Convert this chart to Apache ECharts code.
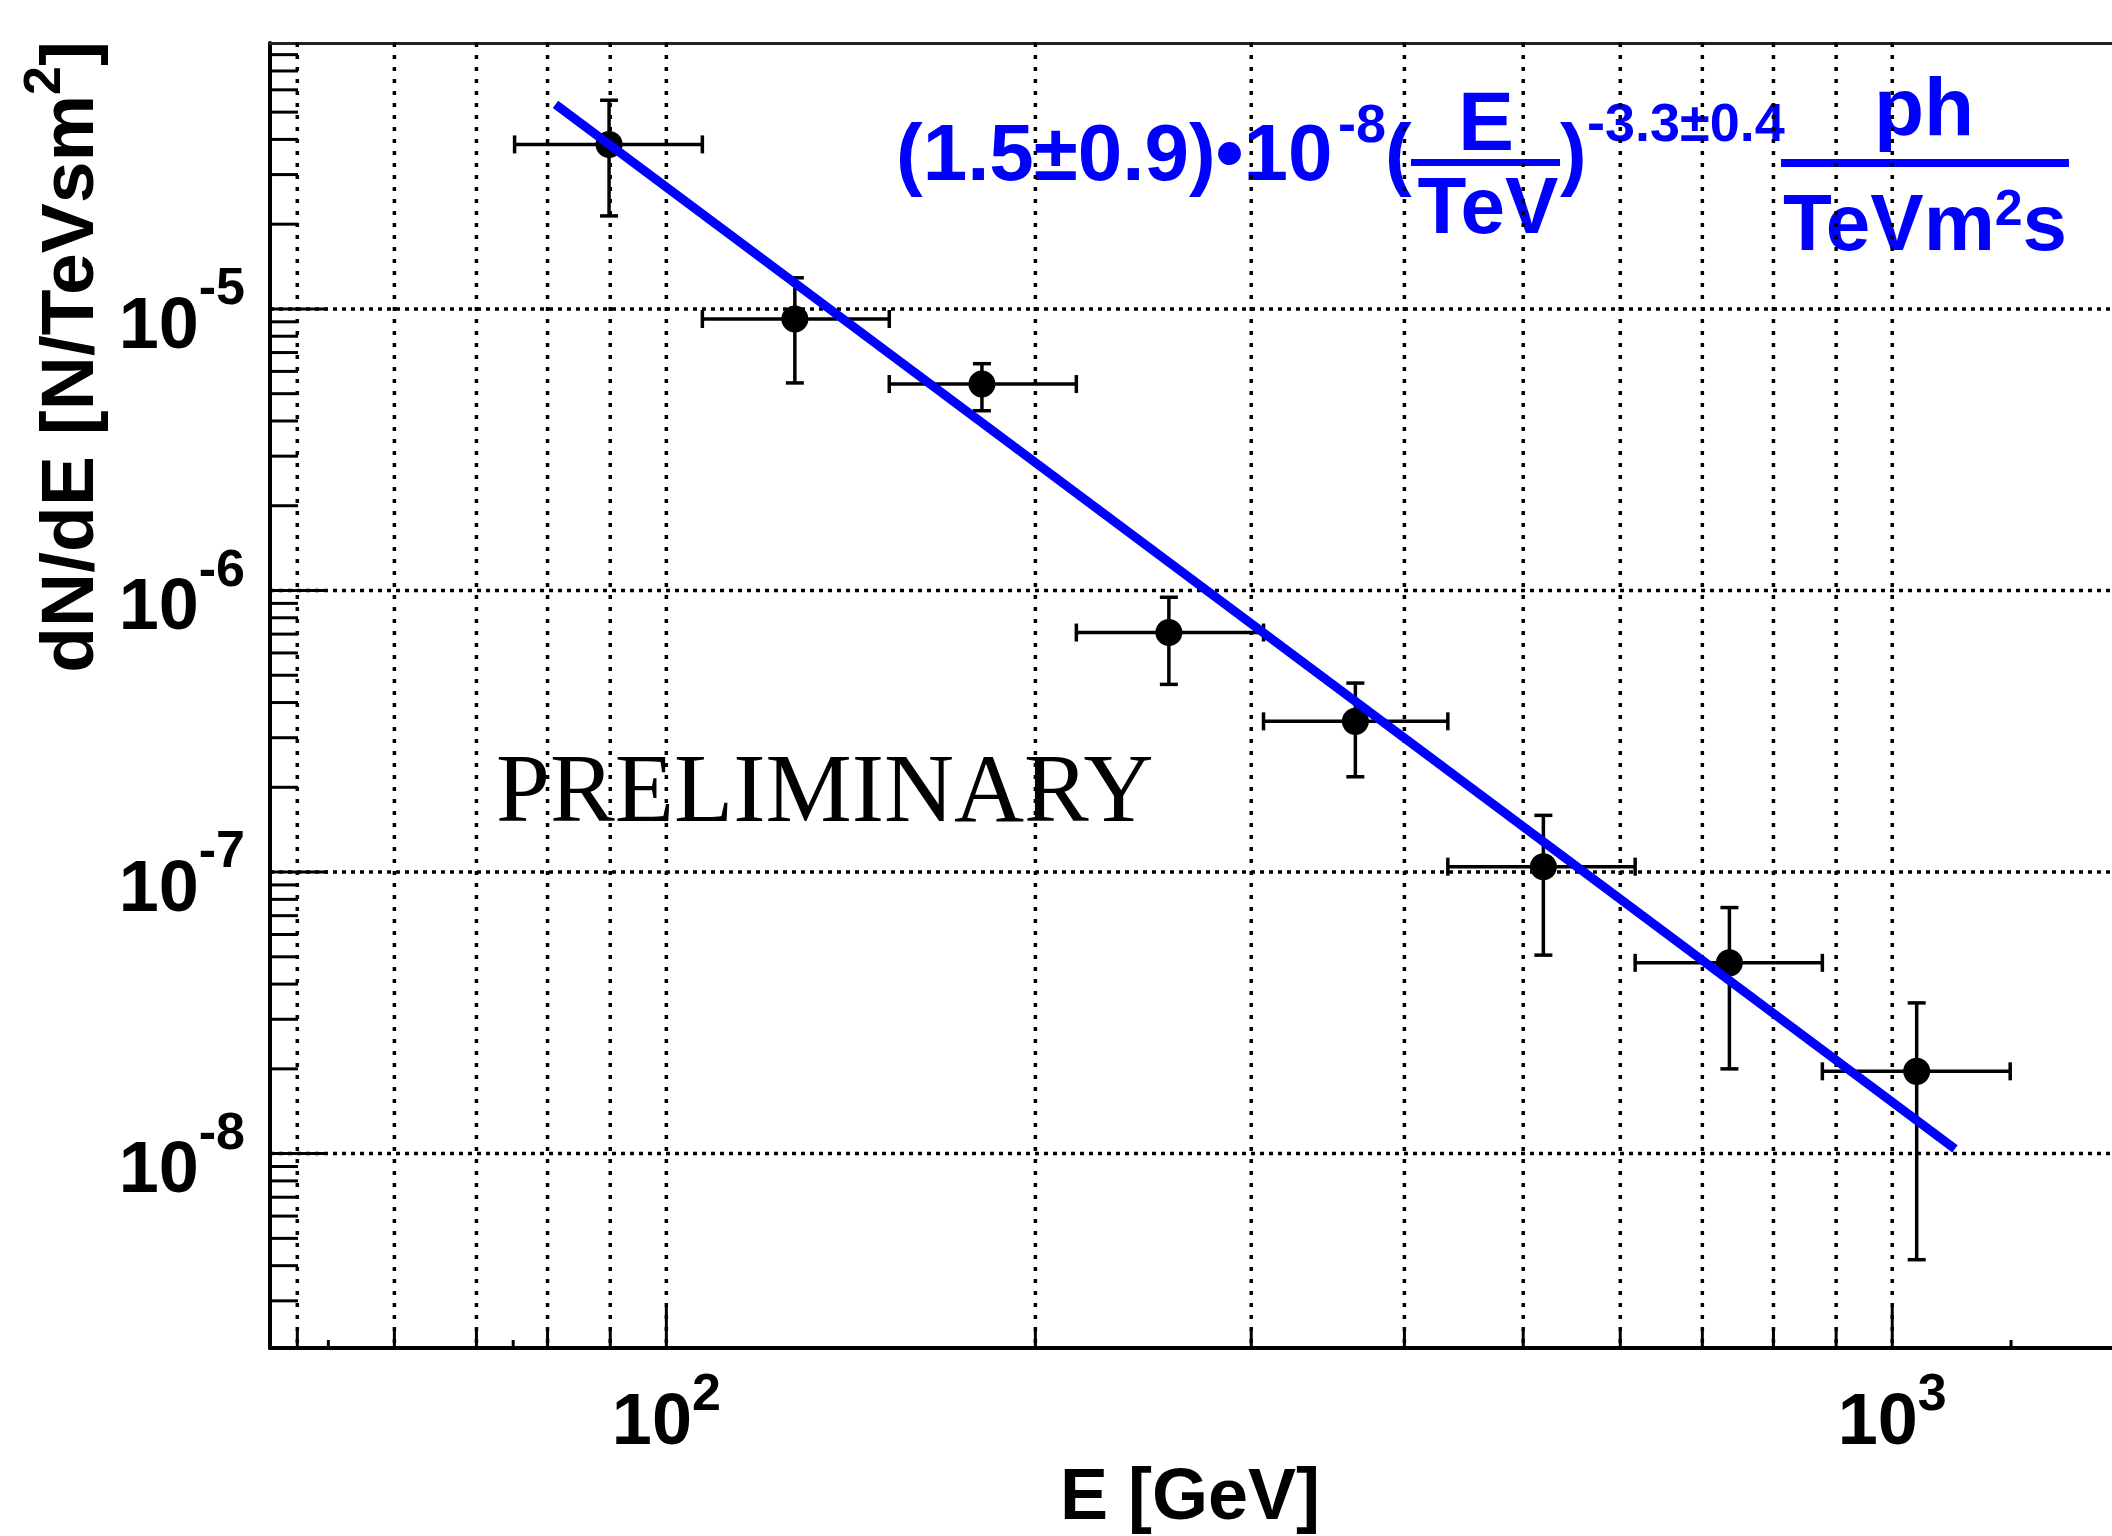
<!DOCTYPE html>
<html>
<head>
<meta charset="utf-8">
<script src="https://cdn.jsdelivr.net/npm/echarts@6/dist/echarts.min.js"></script>
<style>
html, body { margin: 0; padding: 0; background: #fff; }
#chart { width: 2112px; height: 1536px; }
</style>
</head>
<body>
<div id="chart"></div>
<script>
// bin centres and bin edges, E [GeV]
var energy = [89.8, 127.3, 180.9, 257, 364.8, 519.3, 736.5, 1047];
var energyLow = [75.2, 107, 152, 216, 307, 434, 617, 877];
var energyHigh = [107, 152, 216, 307, 434, 617, 877, 1248];
// dN/dE [N/TeV s m^2] with upper / lower error ends
var flux = [3.84e-5, 9.21e-6, 5.41e-6, 7.09e-7, 3.43e-7, 1.045e-7, 4.76e-8, 1.96e-8];
var fluxHigh = [5.51e-5, 1.29e-5, 6.39e-6, 9.46e-7, 4.69e-7, 1.59e-7, 7.48e-8, 3.43e-8];
var fluxLow = [2.14e-5, 5.46e-6, 4.35e-6, 4.64e-7, 2.18e-7, 5.07e-8, 2.0e-8, 4.2e-9];
// power-law fit: straight in log-log, so its two ends
var fitEnergy = [81.2, 1125];
var fitFlux = [5.33e-5, 1.04e-8];

// axis ranges and tick values
var xRange = [47.5, 1511];
var yRange = [2.04e-9, 8.8e-5];
var xGridValues = [50, 60, 70, 80, 90, 100, 200, 300, 400, 500, 600, 700, 800, 900, 1000];
var xMajorTicks = [100, 1000];
var xMinorTicks = [50, 60, 70, 80, 90, 200, 300, 400, 500, 600, 700, 800, 900];
var xSmallTicks = [53, 75, 1250];
var yGridValues = [1e-8, 1e-7, 1e-6, 1e-5];
var yMinorTicks = [
  3e-9, 4e-9, 5e-9, 6e-9, 7e-9, 8e-9, 9e-9,
  2e-8, 3e-8, 4e-8, 5e-8, 6e-8, 7e-8, 8e-8, 9e-8,
  2e-7, 3e-7, 4e-7, 5e-7, 6e-7, 7e-7, 8e-7, 9e-7,
  2e-6, 3e-6, 4e-6, 5e-6, 6e-6, 7e-6, 8e-6, 9e-6,
  2e-5, 3e-5, 4e-5, 5e-5, 6e-5, 7e-5, 8e-5
];

var FONT = '"Liberation Sans", Arial, Helvetica, sans-serif';
var BLUE = '#0000ff';

var chart = echarts.init(document.getElementById('chart'));

function powLabel(v) {
  var e = Math.log10(v);
  var n = Math.round(e);
  if (Math.abs(e - n) > 1e-6) return '';
  return '{b|10}{s|' + n + '}';
}

// vertical lines (grid or ticks) at x values
function vLineSeries(values, len, dash, z) {
  return {
    type: 'custom',
    silent: true,
    z: z,
    data: values.map(function (v) { return [v, yRange[1]]; }),
    renderItem: function (params, api) {
      var cs = params.coordSys;
      var x = api.coord([api.value(0), yRange[1]])[0];
      var bottom = cs.y + cs.height;
      var top = len ? bottom - len : cs.y;
      return {
        type: 'line',
        shape: { x1: x, y1: top, x2: x, y2: bottom },
        style: { stroke: '#000', lineWidth: dash ? 3.5 : 3, lineDash: dash || null }
      };
    }
  };
}

// horizontal lines (grid or ticks) at y values
function hLineSeries(values, len, dash, z) {
  return {
    type: 'custom',
    silent: true,
    z: z,
    data: values.map(function (v) { return [xRange[0], v]; }),
    renderItem: function (params, api) {
      var cs = params.coordSys;
      var y = api.coord([xRange[0], api.value(1)])[1];
      var left = cs.x;
      var right = len ? left + len : cs.x + cs.width;
      return {
        type: 'line',
        shape: { x1: left, y1: y, x2: right, y2: y },
        style: { stroke: '#000', lineWidth: dash ? 3.5 : 3, lineDash: dash || null }
      };
    }
  };
}

var errData = energy.map(function (e, i) {
  return [e, flux[i], energyLow[i], energyHigh[i], fluxLow[i], fluxHigh[i]];
});

var option = {
  animation: false,
  backgroundColor: '#fff',
  grid: { left: 270, top: 43, right: 0, bottom: 188, containLabel: false },
  xAxis: [{
    type: 'log',
    logBase: 10,
    min: xRange[0],
    max: xRange[1],
    axisLine: { show: true, lineStyle: { color: '#000', width: 4 } },
    axisTick: { show: false },
    splitLine: { show: false },
    axisLabel: {
      margin: 36,
      formatter: powLabel,
      showMinLabel: false,
      showMaxLabel: false,
      rich: {
        b: { fontFamily: FONT, fontWeight: 'bold', fontSize: 72, lineHeight: 80, color: '#000' },
        s: { fontFamily: FONT, fontWeight: 'bold', fontSize: 52, lineHeight: 24, height: 24, verticalAlign: 'top', color: '#000' }
      }
    }
  }, {
    type: 'log',
    logBase: 10,
    min: xRange[0],
    max: xRange[1],
    position: 'top',
    axisLine: { show: true, lineStyle: { color: '#222', width: 3 } },
    axisTick: { show: false },
    axisLabel: { show: false },
    splitLine: { show: false }
  }],
  yAxis: {
    type: 'log',
    logBase: 10,
    min: yRange[0],
    max: yRange[1],
    axisLine: { show: true, lineStyle: { color: '#000', width: 4 } },
    axisTick: { show: false },
    splitLine: { show: false },
    axisLabel: {
      margin: 25,
      formatter: powLabel,
      showMinLabel: false,
      showMaxLabel: false,
      padding: [38, 0, 0, 0],
      rich: {
        b: { fontFamily: FONT, fontWeight: 'bold', fontSize: 72, lineHeight: 80, color: '#000' },
        s: { fontFamily: FONT, fontWeight: 'bold', fontSize: 52, lineHeight: 4, height: 4, verticalAlign: 'top', color: '#000' }
      }
    }
  },
  graphic: [
    {
      type: 'text', x: 72, y: 41, rotation: Math.PI / 2, silent: true,
      style: {
        text: '{a|dN/dE [N/TeVsm}{s|2}{a|]}',
        textAlign: 'right', textVerticalAlign: 'middle',
        rich: {
          a: { fontFamily: FONT, fontWeight: 'bold', fontSize: 75, lineHeight: 82, fill: '#000' },
          s: { fontFamily: FONT, fontWeight: 'bold', fontSize: 52, lineHeight: 30, height: 30, verticalAlign: 'top', fill: '#000' }
        }
      }
    },
    {
      type: 'text', x: 1190, y: 1499, silent: true,
      style: { text: 'E [GeV]', font: 'bold 72px ' + FONT, fill: '#000', textAlign: 'center', textVerticalAlign: 'middle' }
    },
    {
      type: 'text', x: 496, y: 796, silent: true,
      style: { text: 'PRELIMINARY', font: '97px "Liberation Serif", "Times New Roman", serif', fill: '#000', textAlign: 'left', textVerticalAlign: 'middle' }
    },
    // fit formula
    {
      type: 'text', x: 896, y: 158, silent: true,
      style: { text: '(1.5\u00b10.9)\u202210', font: 'bold 80px ' + FONT, fill: BLUE, textAlign: 'left', textVerticalAlign: 'middle' }
    },
    {
      type: 'text', x: 1338, y: 127, silent: true,
      style: { text: '-8', font: 'bold 54px ' + FONT, fill: BLUE, textAlign: 'left', textVerticalAlign: 'middle' }
    },
    {
      type: 'text', x: 1385, y: 158, silent: true,
      style: { text: '(', font: 'bold 80px ' + FONT, fill: BLUE, textAlign: 'left', textVerticalAlign: 'middle' }
    },
    {
      type: 'text', x: 1486, y: 127, silent: true,
      style: { text: 'E', font: 'bold 84px ' + FONT, fill: BLUE, textAlign: 'center', textVerticalAlign: 'middle' }
    },
    { type: 'rect', silent: true, shape: { x: 1411, y: 159, width: 149, height: 7 }, style: { fill: BLUE } },
    {
      type: 'text', x: 1488, y: 211, silent: true,
      style: { text: 'TeV', font: 'bold 80px ' + FONT, fill: BLUE, textAlign: 'center', textVerticalAlign: 'middle' }
    },
    {
      type: 'text', x: 1560, y: 158, silent: true,
      style: { text: ')', font: 'bold 80px ' + FONT, fill: BLUE, textAlign: 'left', textVerticalAlign: 'middle' }
    },
    {
      type: 'text', x: 1587, y: 126, silent: true,
      style: { text: '-3.3\u00b10.4', font: 'bold 54px ' + FONT, fill: BLUE, textAlign: 'left', textVerticalAlign: 'middle' }
    },
    {
      type: 'text', x: 1924, y: 112, silent: true,
      style: { text: 'ph', font: 'bold 82px ' + FONT, fill: BLUE, textAlign: 'center', textVerticalAlign: 'middle' }
    },
    { type: 'rect', silent: true, shape: { x: 1781, y: 159, width: 288, height: 8 }, style: { fill: BLUE } },
    {
      type: 'text', x: 1925, y: 228, silent: true,
      style: {
        text: '{a|TeVm}{s|2}{a|s}',
        textAlign: 'center', textVerticalAlign: 'middle',
        rich: {
          a: { fontFamily: FONT, fontWeight: 'bold', fontSize: 80, lineHeight: 80, fill: BLUE },
          s: { fontFamily: FONT, fontWeight: 'bold', fontSize: 50, lineHeight: 46, height: 46, verticalAlign: 'top', fill: BLUE }
        }
      }
    }
  ],
  series: [
    vLineSeries(xGridValues, 0, [4, 8], 1),
    hLineSeries(yGridValues, 0, [4, 5], 1),
    vLineSeries(xMajorTicks, 42, null, 2),
    vLineSeries(xMinorTicks, 18, null, 2),
    vLineSeries(xSmallTicks, 8, null, 2),
    hLineSeries(yGridValues, 58, null, 2),
    hLineSeries(yMinorTicks, 28, null, 2),
    {
      type: 'custom',
      name: 'errors',
      z: 3,
      data: errData,
      renderItem: function (params, api) {
        var c = api.coord([api.value(0), api.value(1)]);
        var xl = api.coord([api.value(2), api.value(1)])[0];
        var xh = api.coord([api.value(3), api.value(1)])[0];
        var yl = api.coord([api.value(0), api.value(4)])[1];
        var yh = api.coord([api.value(0), api.value(5)])[1];
        var cap = 9;
        var st = { stroke: '#000', lineWidth: 3.5 };
        return {
          type: 'group',
          children: [
            { type: 'line', shape: { x1: xl, y1: c[1], x2: xh, y2: c[1] }, style: st },
            { type: 'line', shape: { x1: c[0], y1: yl, x2: c[0], y2: yh }, style: st },
            { type: 'line', shape: { x1: xl, y1: c[1] - cap, x2: xl, y2: c[1] + cap }, style: st },
            { type: 'line', shape: { x1: xh, y1: c[1] - cap, x2: xh, y2: c[1] + cap }, style: st },
            { type: 'line', shape: { x1: c[0] - cap, y1: yl, x2: c[0] + cap, y2: yl }, style: st },
            { type: 'line', shape: { x1: c[0] - cap, y1: yh, x2: c[0] + cap, y2: yh }, style: st }
          ]
        };
      }
    },
    {
      type: 'scatter',
      name: 'data',
      z: 4,
      symbol: 'circle',
      symbolSize: 27,
      itemStyle: { color: '#000', opacity: 1 },
      data: energy.map(function (e, i) { return [e, flux[i]]; })
    },
    {
      type: 'line',
      name: 'fit',
      z: 5,
      symbol: 'none',
      lineStyle: { color: BLUE, width: 9, cap: 'butt' },
      data: fitEnergy.map(function (e, i) { return [e, fitFlux[i]]; })
    }
  ]
};

chart.setOption(option);
</script>
</body>
</html>
